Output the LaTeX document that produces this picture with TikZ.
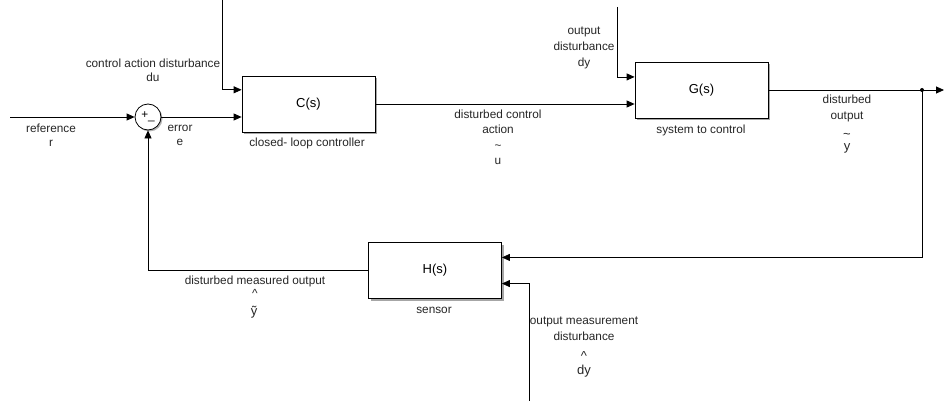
\documentclass[tikz,border=0pt]{standalone}
\usepackage{fontspec}
\setmainfont{Liberation Sans}
\usetikzlibrary{arrows.meta,shadows,calc}
\begin{document}
\begin{tikzpicture}[x=1pt,y=-1pt,
  blk/.style={draw, line width=0.8pt, fill=white, minimum width=133pt, minimum height=56pt, inner sep=0pt,
    drop shadow={shadow xshift=2pt,shadow yshift=-2pt,opacity=0.35,fill=black},
    font=\fontsize{13}{14}\selectfont},
  lbl/.style={font=\fontsize{11.8}{14}\selectfont, align=center, inner sep=0pt, text=black!85},
  wire/.style={line width=0.8pt},
  arr/.style={wire, -{Triangle[length=8pt,width=7pt]}}]
\useasboundingbox (0,0) rectangle (944,401);
% blocks
\node[blk] (C) at (308.5,104) {C(s)};
\node[blk] (G) at (701.5,90) {G(s)};
\node[blk] (H) at (435,270.5) {H(s)};
\node[circle, draw, wire, fill=white, minimum size=26pt, inner sep=0pt,
  drop shadow={shadow xshift=1.5pt,shadow yshift=-1.5pt,opacity=0.3,fill=black},
  font=\fontsize{11.8}{12}\selectfont] (S) at (148,117) {+\raisebox{-1pt}{\_}};
\node[circle, fill, inner sep=0pt, minimum size=4pt] (J) at (922,90) {};
% free ends and ports
\coordinate (refin) at (10,117);
\coordinate (duTop) at (222,0);
\coordinate (dyTop) at (617,7);
\coordinate (outEnd) at (944,90);
\coordinate (mdBot) at (529,401);
\coordinate (Cin1) at ($(C.north west)!0.25!(C.south west)$);
\coordinate (Gin1) at ($(G.north west)!0.27!(G.south west)$);
\coordinate (Hin1) at ($(H.north east)!0.27!(H.south east)$);
\coordinate (Hin2) at ($(H.north east)!0.73!(H.south east)$);
% connectors
\draw[arr] (refin) -- (S.west);
\draw[arr] (S.east) -- (C.west |- S.east);
\draw[arr] (duTop) |- (Cin1);
\draw[arr] (C.east) -- (G.west |- C.east);
\draw[arr] (dyTop) |- (Gin1);
\draw[arr] (G.east) -- (outEnd);
\draw[arr] (J.center) |- (Hin1);
\draw[arr] (mdBot) |- (Hin2);
\draw[arr] (H.west) -| (S.south);
% labels
\node[lbl] (lref) at (51,135) {reference\\r};
\node[lbl] (lerr) at (180,135) {error\\e};
\node[lbl] (ldu) at (153,70) {control action disturbance\\du};
\node[lbl] (lcl) at (307,143) {closed- loop controller};
\node[lbl, font=\fontsize{11.8}{16}\selectfont] (ldy) at (584,48) {output\\disturbance\\dy};
\node[lbl, font=\fontsize{11.8}{15}\selectfont] (lu) at (498,121.5) {disturbed control\\action};
\node[lbl, font=\fontsize{11.8}{15}\selectfont] (lu2) at (498,154.5) {\textasciitilde\\u};
\node[lbl, font=\fontsize{11.8}{16}\selectfont] (ly) at (847,108) {disturbed\\output};
\node[lbl, font=\fontsize{13}{12}\selectfont] (ly2) at (847,143) {\textasciitilde\\y};
\node[lbl] (lsys) at (701,130) {system to control};
\node[lbl] (lsen) at (434,310) {sensor};
\node[lbl] (lmo) at (255,281) {disturbed measured output};
\node[lbl] (lmo2) at (255,293) {\^{}};
\node[lbl, font=\fontsize{13}{12}\selectfont] (lmo3) at (254,312) {ỹ};
\node[lbl, font=\fontsize{11.8}{16}\selectfont] (lomd) at (584,329) {output measurement\\disturbance};
\node[lbl, font=\fontsize{13}{14}\selectfont] (lomd2) at (584,364) {\^{}\\dy};
\end{tikzpicture}
\end{document}
